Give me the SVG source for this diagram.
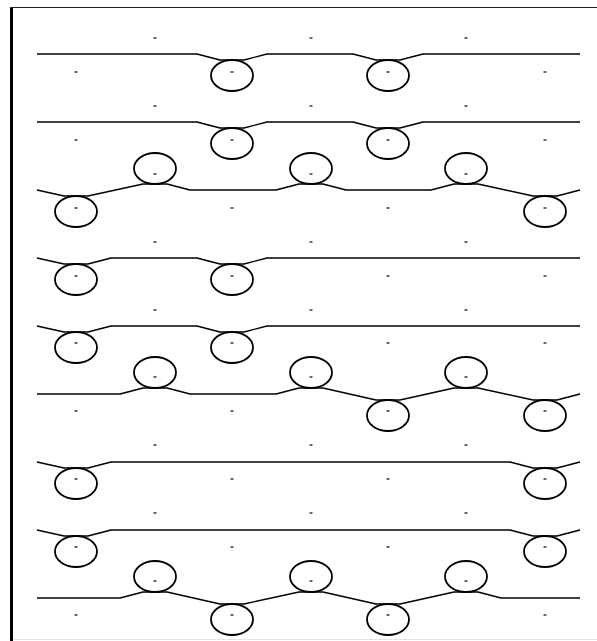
<svg xmlns="http://www.w3.org/2000/svg" width="597" height="641" viewBox="0 0 597 641">
<style>
.c{fill:none;stroke:#000;stroke-width:1.8}
.l{fill:none;stroke:#000;stroke-width:1.4;stroke-linejoin:round}
.d{fill:#5a3a3a}
</style>
<defs>
<rect id="dot" class="d" x="-1.5" y="-0.8" width="3" height="1.6"/>
</defs>
<rect x="0" y="0" width="597" height="641" fill="#fff"/>
<g id="frame">
<rect x="10" y="7" width="3" height="634" fill="#000"/>
<line x1="10" y1="7.5" x2="597" y2="7.5" stroke="#222" stroke-width="1.2"/>
<line x1="13" y1="639.5" x2="597" y2="639.5" stroke="#e4e4e4" stroke-width="1"/>
</g>
<g id="marks">
<use href="#dot" x="155" y="38"/><use href="#dot" x="311" y="38"/><use href="#dot" x="466" y="38"/>
<use href="#dot" x="76" y="72"/><use href="#dot" x="232" y="72"/><use href="#dot" x="388" y="72"/><use href="#dot" x="545" y="72"/>
<use href="#dot" x="155" y="106"/><use href="#dot" x="311" y="106"/><use href="#dot" x="466" y="106"/>
<use href="#dot" x="76" y="140"/><use href="#dot" x="232" y="140"/><use href="#dot" x="388" y="140"/><use href="#dot" x="545" y="140"/>
<use href="#dot" x="155" y="174"/><use href="#dot" x="311" y="174"/><use href="#dot" x="466" y="174"/>
<use href="#dot" x="76" y="208"/><use href="#dot" x="232" y="208"/><use href="#dot" x="388" y="208"/><use href="#dot" x="545" y="208"/>
<use href="#dot" x="155" y="242"/><use href="#dot" x="311" y="242"/><use href="#dot" x="466" y="242"/>
<use href="#dot" x="76" y="276"/><use href="#dot" x="232" y="276"/><use href="#dot" x="388" y="276"/><use href="#dot" x="545" y="276"/>
<use href="#dot" x="155" y="310"/><use href="#dot" x="311" y="310"/><use href="#dot" x="466" y="310"/>
<use href="#dot" x="76" y="343"/><use href="#dot" x="232" y="343"/><use href="#dot" x="388" y="343"/><use href="#dot" x="545" y="343"/>
<use href="#dot" x="155" y="377"/><use href="#dot" x="311" y="377"/><use href="#dot" x="466" y="377"/>
<use href="#dot" x="76" y="411"/><use href="#dot" x="232" y="411"/><use href="#dot" x="388" y="411"/><use href="#dot" x="545" y="411"/>
<use href="#dot" x="155" y="445"/><use href="#dot" x="311" y="445"/><use href="#dot" x="466" y="445"/>
<use href="#dot" x="76" y="479"/><use href="#dot" x="232" y="479"/><use href="#dot" x="388" y="479"/><use href="#dot" x="545" y="479"/>
<use href="#dot" x="155" y="513"/><use href="#dot" x="311" y="513"/><use href="#dot" x="466" y="513"/>
<use href="#dot" x="76" y="547"/><use href="#dot" x="232" y="547"/><use href="#dot" x="388" y="547"/><use href="#dot" x="545" y="547"/>
<use href="#dot" x="155" y="581"/><use href="#dot" x="311" y="581"/><use href="#dot" x="466" y="581"/>
<use href="#dot" x="76" y="615"/><use href="#dot" x="232" y="615"/><use href="#dot" x="388" y="615"/><use href="#dot" x="545" y="615"/>
</g>
<g id="connectors">
<polyline class="l" points="37,54 197,54 220,60 244,60 267,54 353,54 376,60 400,60 423,54 580,54"/>
<polyline class="l" points="37,122 197,122 220,128 244,128 267,122 353,122 376,128 400,128 423,122 580,122"/>
<polyline class="l" points="37,190 64,196 88,196 143,184 167,184 190,190 276,190 299,184 323,184 346,190 431,190 454,184 478,184 533,196 557,196 580,190"/>
<polyline class="l" points="37,258 64,264 88,264 111,258 197,258 220,264 244,264 267,258 580,258"/>
<polyline class="l" points="37,326 64,332 88,332 111,326 197,326 220,332 244,332 267,326 580,326"/>
<polyline class="l" points="37,394 120,394 143,388 167,388 190,394 276,394 299,388 323,388 376,400 400,400 454,388 478,388 533,400 557,400 580,394"/>
<polyline class="l" points="37,462 64,468 88,468 111,462 510,462 533,468 557,468 580,462"/>
<polyline class="l" points="37,530 64,536 88,536 111,530 510,530 533,536 557,536 580,530"/>
<polyline class="l" points="37,598 120,598 143,592 167,592 220,604 244,604 299,592 323,592 376,604 400,604 454,592 478,592 501,598 580,598"/>
</g>
<g id="n1"><ellipse class="c" cx="232" cy="75.5" rx="21" ry="15.5"/></g>
<g id="n2"><ellipse class="c" cx="388" cy="75.5" rx="21" ry="15.5"/></g>
<g id="n3"><ellipse class="c" cx="232" cy="143.5" rx="21" ry="15.5"/></g>
<g id="n4"><ellipse class="c" cx="388" cy="143.5" rx="21" ry="15.5"/></g>
<g id="n5"><ellipse class="c" cx="155" cy="168.5" rx="21" ry="15.5"/></g>
<g id="n6"><ellipse class="c" cx="311" cy="168.5" rx="21" ry="15.5"/></g>
<g id="n7"><ellipse class="c" cx="466" cy="168.5" rx="21" ry="15.5"/></g>
<g id="n8"><ellipse class="c" cx="76" cy="211.5" rx="21" ry="15.5"/></g>
<g id="n9"><ellipse class="c" cx="545" cy="211.5" rx="21" ry="15.5"/></g>
<g id="n10"><ellipse class="c" cx="76" cy="279.5" rx="21" ry="15.5"/></g>
<g id="n11"><ellipse class="c" cx="232" cy="279.5" rx="21" ry="15.5"/></g>
<g id="n12"><ellipse class="c" cx="76" cy="347.5" rx="21" ry="15.5"/></g>
<g id="n13"><ellipse class="c" cx="232" cy="347.5" rx="21" ry="15.5"/></g>
<g id="n14"><ellipse class="c" cx="155" cy="372.5" rx="21" ry="15.5"/></g>
<g id="n15"><ellipse class="c" cx="311" cy="372.5" rx="21" ry="15.5"/></g>
<g id="n16"><ellipse class="c" cx="466" cy="372.5" rx="21" ry="15.5"/></g>
<g id="n17"><ellipse class="c" cx="388" cy="415.5" rx="21" ry="15.5"/></g>
<g id="n18"><ellipse class="c" cx="545" cy="415.5" rx="21" ry="15.5"/></g>
<g id="n19"><ellipse class="c" cx="76" cy="483.5" rx="21" ry="15.5"/></g>
<g id="n20"><ellipse class="c" cx="545" cy="483.5" rx="21" ry="15.5"/></g>
<g id="n21"><ellipse class="c" cx="76" cy="551.5" rx="21" ry="15.5"/></g>
<g id="n22"><ellipse class="c" cx="545" cy="551.5" rx="21" ry="15.5"/></g>
<g id="n23"><ellipse class="c" cx="155" cy="576.5" rx="21" ry="15.5"/></g>
<g id="n24"><ellipse class="c" cx="311" cy="576.5" rx="21" ry="15.5"/></g>
<g id="n25"><ellipse class="c" cx="466" cy="576.5" rx="21" ry="15.5"/></g>
<g id="n26"><ellipse class="c" cx="232" cy="619.5" rx="21" ry="15.5"/></g>
<g id="n27"><ellipse class="c" cx="388" cy="619.5" rx="21" ry="15.5"/></g>
</svg>
